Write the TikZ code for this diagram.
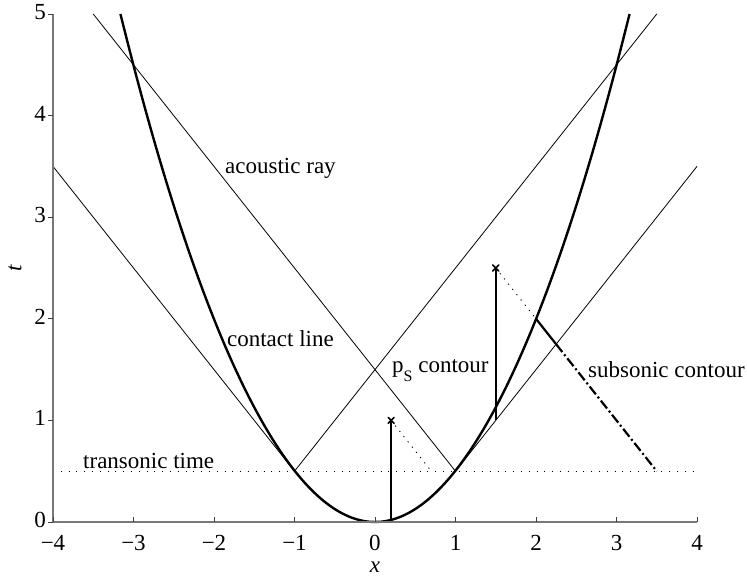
\documentclass[tikz,border=0pt]{standalone}
\usepackage{fontspec}
\setmainfont{Liberation Serif}
\definecolor{axgray}{RGB}{120,120,120}
\begin{document}
\begin{tikzpicture}[x=80.5pt,y=101.6pt,
  thinline/.style={line width=0.8pt, black},
  thickline/.style={line width=2.4pt, black},
  axisline/.style={draw=axgray, line width=1.4pt},
  tickline/.style={draw=black!75, line width=0.8pt},
  dotline/.style={line width=0.9pt, dash pattern=on 1.2pt off 5.5pt},
  timeline/.style={line width=0.7pt, dash pattern=on 0.8pt off 7pt},
  dashdot/.style={line width=2.2pt, dash pattern=on 10pt off 3pt on 2pt off 3pt},
  markx/.style={line width=1.6pt, line cap=round},
  lbl/.style={font=\fontsize{23}{27}\selectfont, inner sep=0pt},
  ticklbl/.style={font=\fontsize{23}{27}\selectfont, inner sep=0pt}
]
\useasboundingbox (-375pt,-57pt) rectangle (372pt,522pt);

% key points
\coordinate (O) at (-4,0);
\coordinate (XE) at (4,0);
\coordinate (YE) at (-4,5);
\coordinate (P) at (0.2,1);
\coordinate (Pb) at (0.2,0.02);
\coordinate (Pd) at (0.7,0.5);
\coordinate (Q) at (1.5,2.5);
\coordinate (Qb) at (1.5,1.0);
\coordinate (Qd) at (2,2);
\coordinate (R) at (2.25,1.75);
\coordinate (S) at (3.5,0.5);

% acoustic rays (tangent lines)
\draw[thinline] (-4,3.5) -- (-1,0.5) -- (3.5,5);
\draw[thinline] (-3.5,5) -- (1,0.5) -- (4,3.5);

% transonic time
\draw[timeline] (-4,0.5) -- (4,0.5);

% contact line (parabola)
\draw[thickline] (-3.1623,5) parabola bend (0,0) (3.1623,5);

% pS contours
\draw[thickline] (Pb) -- (P);
\draw[thickline] (Qb) -- (Q);
\draw[dotline] (P) -- (Pd);
\draw[dotline] (Q) -- (Qd);

% subsonic contour
\draw[line width=2.2pt] (Qd) -- (R);
\draw[dashdot] (R) -- (S);

% markers
\draw[markx] (P) +(-3pt,-3pt) -- +(3pt,3pt) (P) +(-3pt,3pt) -- +(3pt,-3pt);
\draw[markx] (Q) +(-3pt,-3pt) -- +(3pt,3pt) (Q) +(-3pt,3pt) -- +(3pt,-3pt);

% axes
\draw[axisline] (YE) -- (O) -- (XE);
\foreach \i in {-4,...,4} {
  \draw[tickline] (\i,0) -- ++(0,5pt);
  \node[ticklbl] (xt\i) at ([yshift=-21pt]\i,0) {\ifnum\i<0 \symbol{"2212}\the\numexpr-\i\relax\else\i\fi};
}
\foreach \j in {0,...,5} {
  \draw[tickline] (-4,\j) -- ++(-5pt,0);
  \node[ticklbl, anchor=east] (yt\j) at ([xshift=-7pt,yshift=2pt]-4,\j) {\j};
}
\node[lbl] (xlab) at ([yshift=-45pt]0,0) {\textit{x}};
\node[lbl, rotate=90] (tlab) at ([xshift=-38pt]-4,2.5) {\textit{t}};

% labels
\node[lbl, anchor=base west] (acoustic) at (-1.863,3.435) {acoustic ray};
\node[lbl, anchor=base west] (contact) at (-1.84,1.732) {contact line};
\node[lbl, anchor=base west] (ps) at (0.211,1.467) {p\raisebox{-9pt}{\fontsize{16}{16}\selectfont S} contour};
\node[lbl, anchor=base west] (subsonic) at (2.646,1.427) {subsonic contour};
\node[lbl, anchor=base west] (transonic) at (-3.627,0.531) {transonic time};
\end{tikzpicture}
\end{document}
